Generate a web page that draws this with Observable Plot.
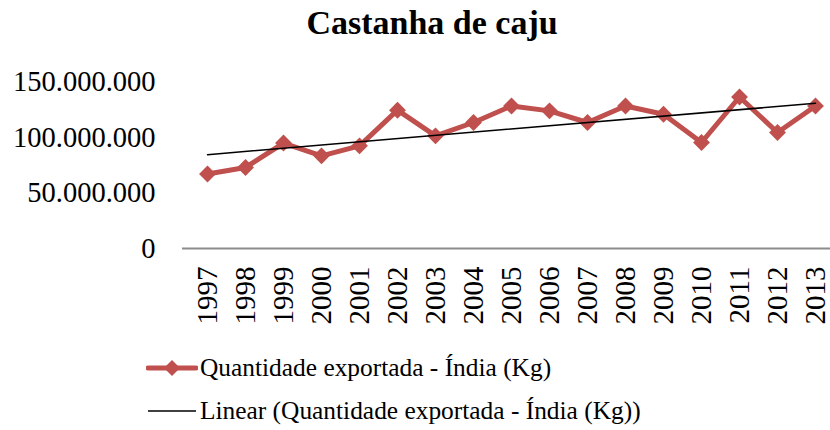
<!DOCTYPE html>
<html>
<head>
<meta charset="utf-8">
<script src="https://cdn.jsdelivr.net/npm/d3@7"></script>
<script src="https://cdn.jsdelivr.net/npm/@observablehq/plot@0.6"></script>
<style>
  html, body { margin: 0; padding: 0; background: #fff; overflow: hidden; }
  body { width: 830px; height: 430px; font-family: "Liberation Serif", "Times New Roman", serif; color: #000; }
  #title { height: 50px; line-height: 46px; text-align: center; font-weight: bold; font-size: 34px; padding-left: 34px; box-sizing: border-box; }
  #chart svg { display: block; }
  .legend { position: absolute; left: 146px; font-size: 25.4px; display: flex; align-items: center; white-space: nowrap; }
  .legend svg { margin-right: 2px; }
</style>
</head>
<body>
<div id="title">Castanha de caju</div>
<div id="chart"></div>
<div class="legend" style="top:353px">
  <svg width="52" height="20"><line x1="2" y1="10" x2="50" y2="10" stroke="#C0504D" stroke-width="5" stroke-linecap="round"/><path d="M26 2 L34 10 L26 18 L18 10 Z" fill="#C0504D"/></svg>
  <span>Quantidade exportada - Índia (Kg)</span>
</div>
<div class="legend" style="top:396px">
  <svg width="52" height="20"><line x1="2" y1="10" x2="50" y2="10" stroke="#000" stroke-width="1.5"/></svg>
  <span>Linear (Quantidade exportada - Índia (Kg))</span>
</div>
<script>
const years = ["1997","1998","1999","2000","2001","2002","2003","2004","2005","2006","2007","2008","2009","2010","2011","2012","2013"];
const quantidade = [67100000, 73000000, 95000000, 83500000, 92500000, 124600000, 101500000, 113500000, 128400000, 124000000, 113500000, 128400000, 121000000, 95500000, 136500000, 104500000, 128400000];
const yTicks = [0, 50000000, 100000000, 150000000];

const data = years.map((y, i) => ({year: y, idx: i, value: quantidade[i]}));
const ptBR = d3.formatLocale({decimal: ",", thousands: ".", grouping: [3], currency: ["R$", ""]});
const fmt = ptBR.format(",d");

const chart = Plot.plot({
  width: 830,
  height: 285,
  marginTop: 31.5,
  marginBottom: 87,
  marginLeft: 182,
  marginRight: 0,
  style: {fontFamily: "'Liberation Serif', 'Times New Roman', serif", fontSize: "28px", color: "#000", background: "#fff"},
  x: {type: "point", domain: years, range: [202, 820], padding: 0, label: null},
  y: {domain: [0, 150000000], label: null},
  marks: [
    Plot.axisY({ticks: yTicks, tickFormat: fmt, tickSize: 0, tickPadding: 27, fontSize: 28.5, label: null}),
    Plot.axisX({tickRotate: -90, tickSize: 0, tickPadding: 18, fontSize: 29, label: null}),
    Plot.ruleY([0], {stroke: "#8c8c8c", strokeWidth: 2}),
    Plot.line(data, {x: "year", y: "value", stroke: "#C0504D", strokeWidth: 5, strokeLinejoin: "round"}),
    Plot.dot(data, {x: "year", y: "value", symbol: "diamond2", r: 7.6, fill: "#C0504D", stroke: "none"}),
    Plot.linearRegressionY(data, {x: "year", y: "value", stroke: "#000", strokeWidth: 1.5, ci: 0})
  ]
});
document.getElementById("chart").appendChild(chart);
</script>
</body>
</html>
